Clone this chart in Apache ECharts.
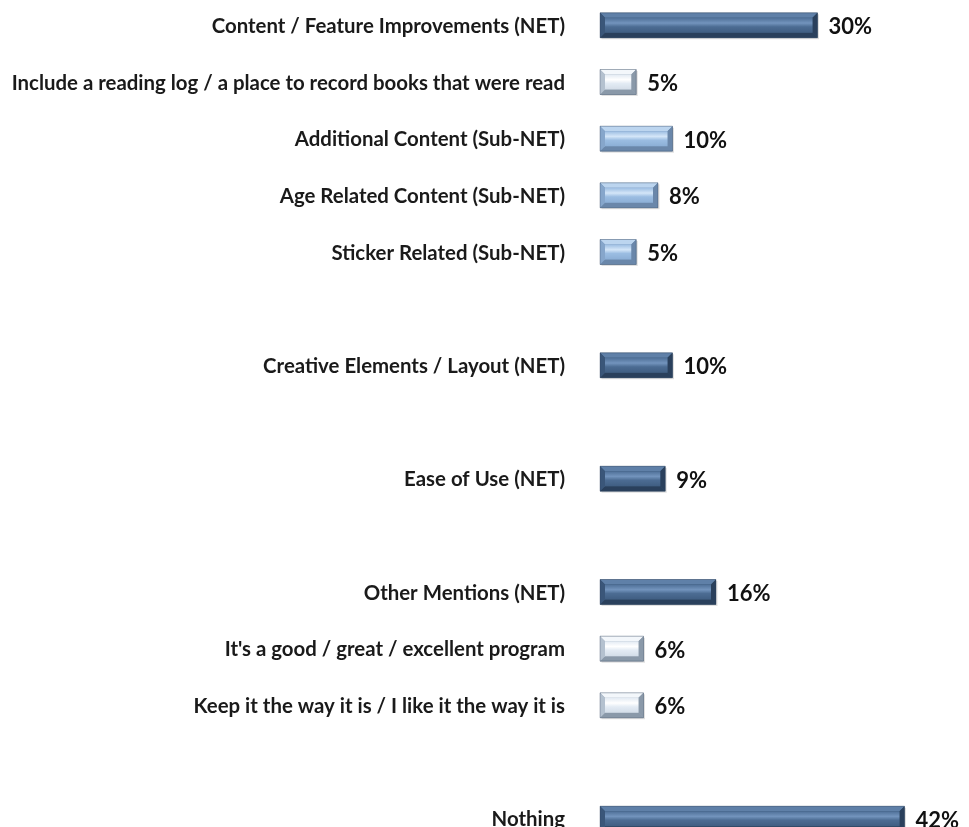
<!DOCTYPE html>
<html>
<head>
<meta charset="utf-8">
<script src="https://cdn.jsdelivr.net/npm/echarts@6/dist/echarts.min.js"></script>
<style>
  html, body { margin: 0; padding: 0; background: #ffffff; overflow: hidden; width: 969px; height: 827px; }
  #chart { position: absolute; left: 0; top: -3px; width: 969px; height: 850px; }
</style>
</head>
<body>
<div id="chart"></div>
<script>
// Answer categories, top to bottom; empty strings are spacer rows between groups.
const categories = [
  'Content / Feature Improvements (NET)',
  'Include a reading log / a place to record books that were read',
  'Additional Content (Sub-NET)',
  'Age Related Content (Sub-NET)',
  'Sticker Related (Sub-NET)',
  '',
  'Creative Elements / Layout (NET)',
  '',
  'Ease of Use (NET)',
  '',
  'Other Mentions (NET)',
  "It's a good / great / excellent program",
  'Keep it the way it is / I like it the way it is',
  '',
  'Nothing'
];

// Percent of mentions per row (null = spacer row).
const values = [30, 5, 10, 8, 5, null, 10, null, 9, null, 16, 6, 6, null, 42];

// Row level: net, sub (sub-net) or item.
const levels = ['net', 'item', 'sub', 'sub', 'sub', null, 'net', null, 'net', null, 'net', 'item', 'item', null, 'net'];

// Bevel palettes for each level.
const palettes = {
  net:  { frame: '#34506f', top: '#5f80a8', bottom: '#2a405c', side: '#3a5679', face: ['#4e6f97', '#7394bd', '#4c6c93', '#405e82'] },
  sub:  { frame: '#7290b4', top: '#bcd5ef', bottom: '#6a87aa', side: '#86a6cb', face: ['#9cbde2', '#d4e6f8', '#9bbde2', '#8cafd6'] },
  item: { frame: '#9eacbb', top: '#f3f7fb', bottom: '#8a99a9', side: '#b4c1cf', face: ['#e2eaf3', '#ffffff', '#e3ebf4', '#d3dde8'] }
};

const BAR_H = 25;
const BEVEL = 5;

// [value, row index] pairs for the rows that carry a bar.
const barData = [];
values.forEach((v, i) => { if (v != null) barData.push([v, i]); });

function renderBar(params, api) {
  const v = api.value(0);
  const idx = api.value(1);
  const p = palettes[levels[idx]];
  const start = api.coord([0, idx]);
  const end = api.coord([v, idx]);
  const x0 = start[0], x1 = end[0];
  const y0 = start[1] - BAR_H / 2, y1 = y0 + BAR_H;
  const b = BEVEL;
  return {
    type: 'group',
    children: [
      { type: 'rect', shape: { x: x0 + 1.5, y: y0 + 1.5, width: x1 - x0, height: BAR_H },
        style: { fill: 'rgba(0,0,0,0.12)' } },
      { type: 'rect', shape: { x: x0, y: y0, width: x1 - x0, height: BAR_H },
        style: { fill: p.frame } },
      { type: 'polygon', shape: { points: [[x0, y0], [x1, y0], [x1 - b, y0 + b], [x0 + b, y0 + b]] },
        style: { fill: p.top } },
      { type: 'polygon', shape: { points: [[x0, y1], [x1, y1], [x1 - b, y1 - b], [x0 + b, y1 - b]] },
        style: { fill: p.bottom } },
      { type: 'polygon', shape: { points: [[x0, y0], [x0 + b, y0 + b], [x0 + b, y1 - b], [x0, y1]] },
        style: { fill: p.side } },
      { type: 'polygon', shape: { points: [[x1, y0], [x1 - b, y0 + b], [x1 - b, y1 - b], [x1, y1]] },
        style: { fill: p.bottom } },
      { type: 'rect', shape: { x: x0 + b, y: y0 + b, width: Math.max(0, x1 - x0 - 2 * b), height: BAR_H - 2 * b },
        style: { fill: new echarts.graphic.LinearGradient(0, 0, 0, 1, [
          { offset: 0, color: p.face[0] },
          { offset: 0.35, color: p.face[1] },
          { offset: 0.6, color: p.face[2] },
          { offset: 1, color: p.face[3] }
        ]) } },
      { type: 'rect', shape: { x: x0, y: y0, width: x1 - x0, height: BAR_H },
        style: { fill: 'none', stroke: 'rgba(40,60,85,0.35)', lineWidth: 1 } },
      { type: 'text', x: x1 + 11, y: start[1] + 2,
        style: { text: v + '%', fill: '#111111', font: 'bold 22px Lato, "Open Sans", sans-serif',
                 textAlign: 'left', textVerticalAlign: 'middle' } }
    ]
  };
}

const chart = echarts.init(document.getElementById('chart'));
chart.setOption({
  animation: false,
  backgroundColor: '#ffffff',
  grid: { left: 600, top: 0, right: 6.5, bottom: 0, containLabel: false },
  xAxis: {
    type: 'value', min: 0, max: 50, show: false
  },
  yAxis: {
    type: 'category', data: categories, inverse: true,
    axisLine: { show: false }, axisTick: { show: false }, splitLine: { show: false },
    axisLabel: {
      margin: 35, align: 'right',
      formatter: (name) => name ? '{t|' + name + '}' : '',
      rich: {
        t: {
          color: '#1a1a1a', fontFamily: 'Lato, "Open Sans", sans-serif',
          fontWeight: 'bold', fontSize: 20.4, padding: [2, 0, 0, 0]
        }
      }
    }
  },
  series: [{
    type: 'custom',
    renderItem: renderBar,
    encode: { x: 0, y: 1 },
    data: barData
  }]
});
</script>
</body>
</html>
